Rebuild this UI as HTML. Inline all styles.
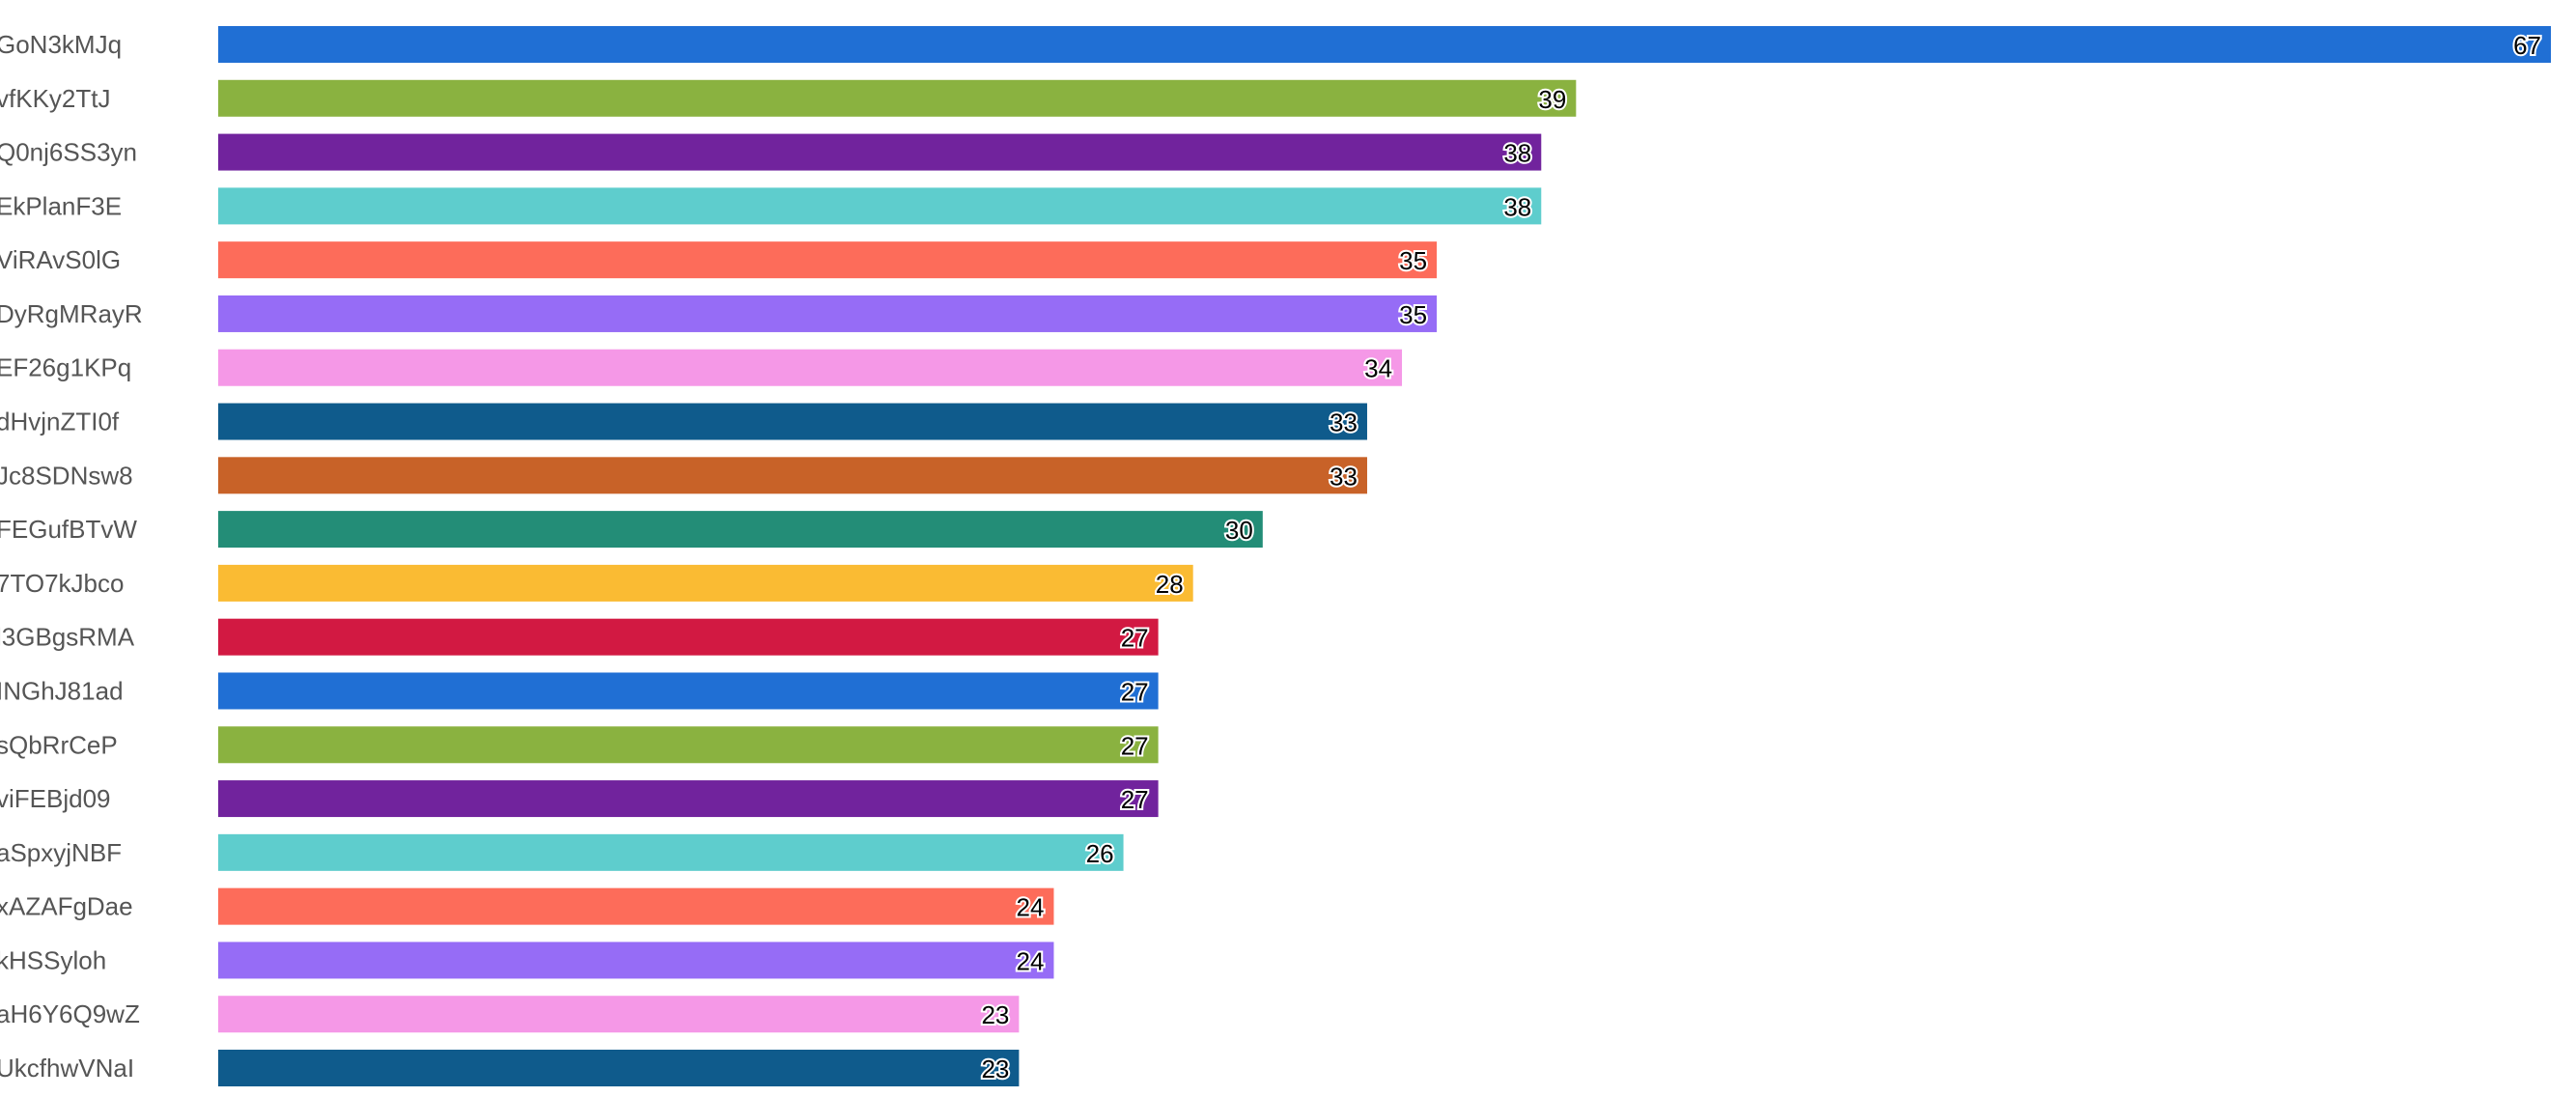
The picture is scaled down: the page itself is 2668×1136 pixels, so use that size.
<!DOCTYPE html>
<html><head><meta charset="utf-8"><style>
html,body{margin:0;padding:0;background:#fff;}
svg{display:block;}
.l{font-family:"Liberation Sans",sans-serif;font-size:26px;fill:#555;}
.v{font-family:"Liberation Sans",sans-serif;font-size:26px;fill:#000;stroke:#fff;stroke-width:4px;paint-order:stroke;text-anchor:end;}
</style></head><body>
<svg width="2668" height="1136" xmlns="http://www.w3.org/2000/svg">
<g id="g"></g>
</svg>
<script>
const d=[["GoN3kMJq",67,"#206fd4"],["vfKKy2TtJ",39,"#8ab240"],["Q0nj6SS3yn",38,"#71239d"],["EkPlanF3E",38,"#5ecdcd"],["ViRAvS0lG",35,"#fd6c5a"],["DyRgMRayR",35,"#966cf6"],["EF26g1KPq",34,"#f598e7"],["dHvjnZTI0f",33,"#0f5b8c"],["Jc8SDNsw8",33,"#c86228"],["FEGufBTvW",30,"#238d77"],["7TO7kJbco",28,"#fabb33"],["l3GBgsRMA",27,"#d21942"],["INGhJ81ad",27,"#206fd4"],["sQbRrCeP",27,"#8ab240"],["viFEBjd09",27,"#71239d"],["aSpxyjNBF",26,"#5ecdcd"],["xAZAFgDae",24,"#fd6c5a"],["kHSSyloh",24,"#966cf6"],["aH6Y6Q9wZ",23,"#f598e7"],["UkcfhwVNaI",23,"#0f5b8c"]];
let s="";
d.forEach((r,i)=>{const y=27+i*55.79;const w=r[1]*36.06;
s+=`<rect x="226" y="${y}" width="${w}" height="38" fill="${r[2]}"/>`;
s+=`<text class="l" x="-4" y="${y+28}">${r[0]}</text>`;
s+=`<text class="v" x="${226+w-10}" y="${y+29}">${r[1]}</text>`;});
document.getElementById("g").innerHTML=s;
</script>
</body></html>
